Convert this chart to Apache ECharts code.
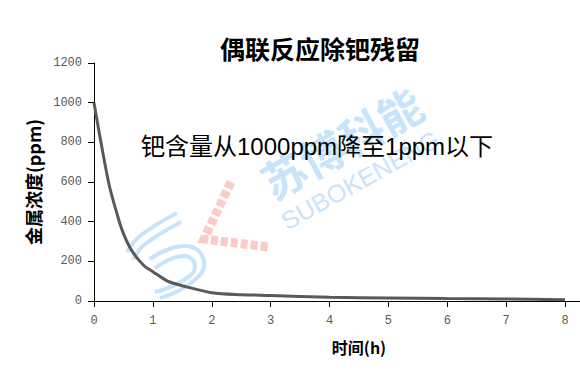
<!DOCTYPE html>
<html>
<head>
<meta charset="utf-8">
<script src="https://cdn.jsdelivr.net/npm/echarts@6/dist/echarts.min.js"></script>
<style>html,body{margin:0;padding:0;background:#fff}#c{width:580px;height:374px}</style>
</head>
<body>
<div id="c"></div>
<script>
var titleText = '偶联反应除钯残留';
var noteText = '钯含量从1000ppm降至1ppm以下';
var yName = '金属浓度(ppm)';
var xName = '时间(h)';
var times = [0, 0.25, 0.4, 0.5, 0.65, 0.85, 1, 1.25, 1.5, 2, 2.5, 3, 4, 5, 6, 7, 8];
var conc  = [1000, 595, 430, 340, 250, 178, 148, 100, 77, 42, 32, 28, 19, 15, 12, 10, 6];
var xTicks = [0, 1, 2, 3, 4, 5, 6, 7, 8];
var yTicks = [0, 200, 400, 600, 800, 1000, 1200];

var chart = echarts.init(document.getElementById('c'), null, {renderer: 'svg'});
var blue = '#c8e3fc', red = '#fccbc6';
chart.setOption({
  animation: false,
  backgroundColor: '#fff',
  title: {
    text: titleText, left: 315, top: 30, textAlign: 'center',
    textStyle: {fontFamily: 'Noto Sans CJK SC', fontWeight: 'bold', fontSize: 25, color: '#000'}
  },
  grid: {left: 94, right: 15, top: 63, bottom: 73},
  xAxis: {
    type: 'value', min: xTicks[0], max: xTicks[xTicks.length - 1], interval: 1,
    axisLine: {lineStyle: {color: '#000', width: 1}},
    axisTick: {show: true, length: 6, lineStyle: {color: '#000'}},
    axisLabel: {margin: 14, color: '#595959', fontFamily: 'Liberation Mono', fontSize: 12},
    splitLine: {show: false}
  },
  yAxis: {
    type: 'value', min: yTicks[0], max: yTicks[yTicks.length - 1], interval: 200,
    name: yName, nameLocation: 'middle', nameGap: 42,
    nameTextStyle: {fontFamily: 'Noto Sans CJK SC', fontWeight: 'bold', fontSize: 18, color: '#000'},
    axisLine: {show: true, lineStyle: {color: '#000', width: 1}},
    axisTick: {show: true, length: 6, lineStyle: {color: '#000'}},
    axisLabel: {margin: 12, color: '#595959', fontFamily: 'Liberation Mono', fontSize: 12,
      formatter: function (v) { return String(v); }},
    splitLine: {show: false}
  },
  graphic: [
    {type: 'line', shape: {x1: 565, y1: 301.5, x2: 580, y2: 301.5}, style: {stroke: '#000', lineWidth: 1}, z: 10},
    {type: 'text', x: 359, y: 347, style: {text: xName, textAlign: 'center', textVerticalAlign: 'middle',
      font: 'bold 16px "Noto Sans CJK SC"', fill: '#000'}},
    // watermark
    {type: 'text', x: 341, y: 142, rotation: 29 * Math.PI / 180, z: -1,
      style: {text: '苏博科能', textAlign: 'center', textVerticalAlign: 'middle',
        font: 'bold 44px "Noto Sans CJK SC"', fill: blue}},
    {type: 'text', x: 360, y: 180, rotation: 29 * Math.PI / 180, z: -1,
      style: {text: 'SUBOKENENG', textAlign: 'center', textVerticalAlign: 'middle',
        font: '25px "Liberation Sans"', fill: blue}},
    {type: 'polyline', z: -1, shape: {points: [[231, 182], [204, 239], [268, 247]]},
      style: {stroke: red, lineWidth: 9, fill: null, lineDash: [7, 3]}},
    {type: 'polyline', z: -1, shape: {points: [[177, 213], [140, 236], [127, 252]], smooth: 0.4},
      style: {stroke: blue, lineWidth: 4, fill: null}},
    {type: 'polyline', z: -1, shape: {points: [[181, 222], [144, 245], [133, 260]], smooth: 0.4},
      style: {stroke: blue, lineWidth: 4, fill: null}},
    {type: 'polyline', z: -1, shape: {points: [[150, 259], [186, 246], [204, 262], [191, 283], [160, 298]], smooth: 0.5},
      style: {stroke: blue, lineWidth: 4, fill: null}},
    {type: 'polyline', z: -1, shape: {points: [[155, 268], [183, 256], [195, 266], [184, 280], [155, 292]], smooth: 0.5},
      style: {stroke: blue, lineWidth: 4, fill: null}},
    {type: 'text', x: 141, y: 146, z: 5,
      style: {text: noteText, textAlign: 'left', textVerticalAlign: 'middle',
        font: '24px "Liberation Sans", "Noto Sans CJK SC"', fill: '#000'}}
  ],
  series: [{
    type: 'line',
    data: times.map(function (t, i) { return [t, conc[i]]; }),
    smooth: 0.3,
    showSymbol: false,
    lineStyle: {color: '#595959', width: 3},
    z: 3
  }]
});
</script>
</body>
</html>
